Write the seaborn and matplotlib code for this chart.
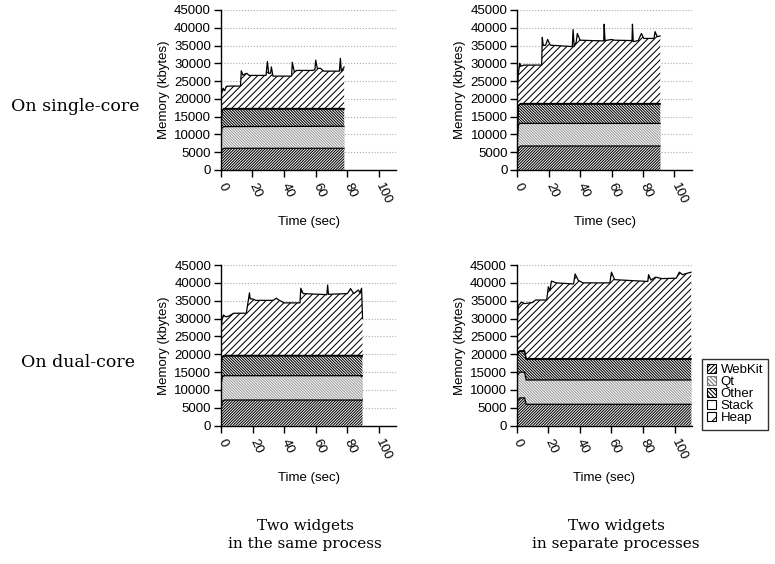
import numpy as np
import matplotlib
matplotlib.use("Agg")
import matplotlib.pyplot as plt
import seaborn as sns
from matplotlib.patches import Patch

# ---------- DATA (tops of each stacked band, kbytes) ----------
# single-core, same process
sc_same_t = [0, 0.7, 2, 78]
sc_same_webkit = [3500, 5600, 6100, 6100]
sc_same_qt = [7000, 11800, 12200, 12300]
sc_same_other = [10000, 16600, 17100, 17100]
sc_same_stack = [10200, 16800, 17300, 17300]
sc_same_heap_t = [0, 0.5, 1.5, 2.5, 3.5, 5, 12.5, 13, 14, 16.4, 18, 28.6, 29.5, 30.3,
                  31.5, 32, 33, 44.8, 45.2, 46.5, 48, 58, 59.5, 60, 61, 63, 65, 75,
                  75.6, 76.2, 78]
sc_same_heap = [19700, 21500, 23000, 22300, 23500, 23600, 23600, 27900, 26700, 27200,
                26600, 26600, 30500, 27200, 27200, 29000, 26400, 26400, 30300, 27600,
                28000, 28000, 28200, 30900, 28600, 28600, 27800, 27800, 31400, 27800,
                29000]

# single-core, separate processes
sc_sep_t = [0, 0.7, 2, 91]
sc_sep_webkit = [3000, 6200, 6750, 6750]
sc_sep_qt = [8000, 12800, 13100, 13100]
sc_sep_other = [12000, 18000, 18500, 18500]
sc_sep_stack = [12200, 18200, 18700, 18700]
sc_sep_heap_t = [0, 0.6, 1.5, 2.5, 4, 15.5, 15.9, 16.5, 18, 19.3, 21, 35, 35.5, 36.2,
                 37.5, 38.2, 40, 55, 55.3, 55.8, 60, 62, 73, 73.3, 73.8, 77, 79, 80.5,
                 87, 87.7, 89, 91]
sc_sep_heap = [22000, 27000, 30000, 29200, 29500, 29500, 37300, 35000, 35100, 36700,
               35100, 34700, 39500, 34700, 36000, 38400, 36500, 36300, 41000, 36400,
               36700, 36500, 36400, 41000, 36100, 36400, 38400, 37000, 37000, 38900,
               37500, 37700]

# dual-core, same process
dc_same_t = [0, 0.8, 2, 88.5, 89, 89.5]
dc_same_webkit = [5000, 6800, 7200, 7200, 7000, 7300]
dc_same_qt = [11500, 13600, 14000, 14000, 13700, 14100]
dc_same_other = [17000, 19200, 19500, 19500, 19200, 19600]
dc_same_stack = [17200, 19400, 19700, 19700, 19400, 19800]
dc_same_heap_t = [0, 0.5, 1.5, 3, 5, 8, 16, 17, 18, 18.5, 20, 22, 33, 35, 37, 40, 50,
                  50.5, 52, 67, 67.5, 68, 80, 82, 84, 87, 88, 89, 89.6]
dc_same_heap = [26000, 29500, 31000, 30500, 30700, 31500, 31500, 34300, 37200, 35500,
                35500, 35100, 35100, 35700, 35100, 34400, 34400, 38500, 37000, 36700,
                39400, 36800, 37000, 38400, 37000, 38000, 37200, 38500, 30000]

# dual-core, separate processes
dc_sep_t = [0, 1, 2, 5, 6, 110.5]
dc_sep_webkit = [6000, 7300, 7800, 7800, 6000, 6000]
dc_sep_qt = [13500, 14500, 15000, 15000, 12800, 12800]
dc_sep_other = [18500, 20500, 20800, 20800, 18600, 18600]
dc_sep_stack = [18700, 20700, 21000, 21000, 18800, 18800]
dc_sep_heap_t = [0, 1, 3, 5, 10, 12, 19, 19.5, 20, 21, 22, 25, 36, 37, 39, 42, 59, 60,
                 62, 83, 83.5, 85, 88, 92, 101, 103, 105, 108, 110.5]
dc_sep_heap = [26000, 33600, 34600, 34200, 34500, 35200, 35200, 37000, 38900, 37800,
               40500, 40000, 39700, 42500, 40700, 40000, 40000, 43000, 40900, 40400,
               42300, 40800, 41600, 41200, 41300, 43000, 42300, 42700, 43000]

SERIES = ["WebKit", "Qt", "Other", "Stack", "Heap"]
Y_TICKS = [0, 5000, 10000, 15000, 20000, 25000, 30000, 35000, 40000, 45000]
X_TICKS = [0, 20, 40, 60, 80, 100]
ROW_LABELS = ["On single-core", "On dual-core"]
COL_LABELS = [("Two widgets", "in the same process"),
              ("Two widgets", "in separate processes")]

# hatch style per band: (hatch, hatch colour)
STYLE = {
    "WebKit": ("/" * 12, "black"),
    "Qt": ("\\" * 12, "#9a9a9a"),
    "Other": ("\\" * 12, "black"),
    "Stack": ("", "black"),
    "Heap": ("/////", "black"),
}
LEGEND_HATCH = {"WebKit": "/" * 8, "Qt": "\\" * 8, "Other": "\\" * 8,
                "Stack": "", "Heap": "//"}
# ------------------------------------------------------------

sns.set_theme(style="ticks")
plt.rcParams.update({
    "font.family": ["Liberation Sans", "DejaVu Sans"],
    "font.size": 9.5,
    "xtick.labelsize": 9.5,
    "ytick.labelsize": 9.5,
    "axes.labelsize": 9.5,
    "legend.fontsize": 9.5,
    "text.color": "black",
    "axes.labelcolor": "black",
    "hatch.linewidth": 0.75,
    "axes.edgecolor": "black",
    "axes.linewidth": 1.0,
    "xtick.color": "black",
    "ytick.color": "black",
    "xtick.major.size": 5,
    "ytick.major.size": 5,
    "xtick.major.width": 1.0,
    "ytick.major.width": 1.0,
})

fig = plt.figure(figsize=(7.75, 5.64), dpi=100)

panels = [
    # [left, bottom, width, height], data
    ([0.2848, 0.6986, 0.2267, 0.2837],
     (sc_same_t, sc_same_webkit, sc_same_qt, sc_same_other, sc_same_stack,
      sc_same_heap_t, sc_same_heap)),
    ([0.6675, 0.6986, 0.2250, 0.2837],
     (sc_sep_t, sc_sep_webkit, sc_sep_qt, sc_sep_other, sc_sep_stack,
      sc_sep_heap_t, sc_sep_heap)),
    ([0.2852, 0.2452, 0.2262, 0.2849],
     (dc_same_t, dc_same_webkit, dc_same_qt, dc_same_other, dc_same_stack,
      dc_same_heap_t, dc_same_heap)),
    ([0.6667, 0.2452, 0.2262, 0.2849],
     (dc_sep_t, dc_sep_webkit, dc_sep_qt, dc_sep_other, dc_sep_stack,
      dc_sep_heap_t, dc_sep_heap)),
]

for rect, data in panels:
    t, webkit, qt, other, stack, heap_t, heap = data
    ax = fig.add_axes(rect)
    ax.set_axisbelow(True)

    # painter's order: each band filled from 0 up to its top, lower bands on top
    bands = [("Heap", heap_t, heap), ("Stack", t, stack), ("Other", t, other),
             ("Qt", t, qt), ("WebKit", t, webkit)]
    for name, bx, by in bands:
        hatch, hc = STYLE[name]
        ax.fill_between(bx, 0, by, facecolor="white", edgecolor=hc,
                        hatch=hatch, linewidth=0)
    for name, bx, by in bands:
        sns.lineplot(x=bx, y=by, ax=ax, color="black", lw=0.9,
                     estimator=None, sort=False)

    ax.set_xlim(0, 111)
    ax.set_ylim(0, 45000)
    ax.set_yticks(Y_TICKS)
    ax.set_xticks(X_TICKS)
    ax.set_xticklabels([str(v) for v in X_TICKS], rotation=-65, ha="left",
                       va="center", rotation_mode="anchor")
    ax.tick_params(axis="x", pad=5)
    ax.tick_params(axis="y", pad=2)
    ax.yaxis.grid(True, linestyle=":", color="#aaaaaa", lw=0.8)
    ax.xaxis.grid(False)
    sns.despine(ax=ax)
    ax.set_ylabel("Memory (kbytes)", labelpad=3)
    ax.set_xlabel("Time (sec)", labelpad=7)

serif = ["DejaVu Serif"]
fig.text(75 / 775, 1 - 111 / 564, ROW_LABELS[0], family=serif, fontsize=12.5,
         ha="center", va="baseline")
fig.text(78 / 775, 1 - 367 / 564, ROW_LABELS[1], family=serif, fontsize=12.5,
         ha="center", va="baseline")
for cx, (line1, line2) in zip([305, 616], COL_LABELS):
    fig.text(cx / 775, 1 - 530 / 564, line1, family=serif, fontsize=11,
             ha="center", va="baseline")
    fig.text(cx / 775, 1 - 548 / 564, line2, family=serif, fontsize=11,
             ha="center", va="baseline")

handles = [Patch(facecolor="white", edgecolor=("#777777" if n == "Qt" else "black"),
                 hatch=LEGEND_HATCH[n], linewidth=0.8)
           for n in SERIES]
leg = fig.legend(handles, SERIES, loc="upper left",
                 bbox_to_anchor=(702 / 775, 1 - 359 / 564), frameon=True, fancybox=False,
                 handlelength=0.65, handleheight=0.65, handletextpad=0.35,
                 labelspacing=0.0, borderpad=0.4, borderaxespad=0, fontsize=9.5)
leg.get_frame().set_edgecolor("black")
leg.get_frame().set_linewidth(1.0)

fig.savefig("out.png", dpi=100)
